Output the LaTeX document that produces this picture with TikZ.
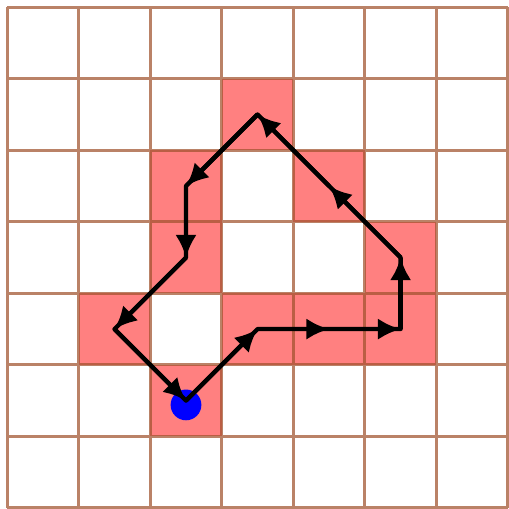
\documentclass[tikz,border=0pt]{standalone}
\usetikzlibrary{arrows.meta}
\definecolor{gridc}{RGB}{160,82,45}
\definecolor{cellc}{RGB}{255,128,128}
\tikzset{
  cellbox/.style={fill=cellc, draw=none},
  gridline/.style={draw=gridc, draw opacity=0.72, line width=1.2pt},
  pathline/.style={line width=1.7pt, black, line join=round},
  arr/.style={pathline, -{Latex[length=9pt,width=8.5pt]}},
  startdot/.style={circle, fill=blue, inner sep=0pt, minimum size=0.43cm}
}
\begin{document}
\begin{tikzpicture}
\useasboundingbox (-0.1,-0.015) rectangle (7.015,7.1);
% shaded cells (col, row-from-bottom)
\foreach \c/\r in {2/1,3/2,4/2,5/2,5/3,4/4,3/5,2/4,2/3,1/2}
  \fill[cellbox] (\c,\r) rectangle ++(1,1);
% grid
\draw[gridline] (0,0) grid (7,7);
% path vertices
\coordinate (p0) at (2.5,1.5);
\coordinate (p1) at (3.5,2.5);
\coordinate (p2) at (4.5,2.5);
\coordinate (p3) at (5.5,2.5);
\coordinate (p4) at (5.5,3.5);
\coordinate (p5) at (4.5,4.5);
\coordinate (p6) at (3.5,5.5);
\coordinate (p7) at (2.5,4.5);
\coordinate (p8) at (2.5,3.5);
\coordinate (p9) at (1.5,2.5);
\node[startdot] (start) at (2.5,1.44) {};
\draw[pathline] (p0) -- (p1) -- (p2) -- (p3) -- (p4) -- (p5) -- (p6) -- (p7) -- (p8) -- (p9) -- cycle;
\draw[arr] (p0) -- (p1);
\draw[arr] (p1) -- (p2);
\draw[arr] (p2) -- (p3);
\draw[arr] (p3) -- (p4);
\draw[arr] (p4) -- (p5);
\draw[arr] (p5) -- (p6);
\draw[arr] (p6) -- (p7);
\draw[arr] (p7) -- (p8);
\draw[arr] (p8) -- (p9);
\draw[arr] (p9) -- (p0);
\end{tikzpicture}
\end{document}
